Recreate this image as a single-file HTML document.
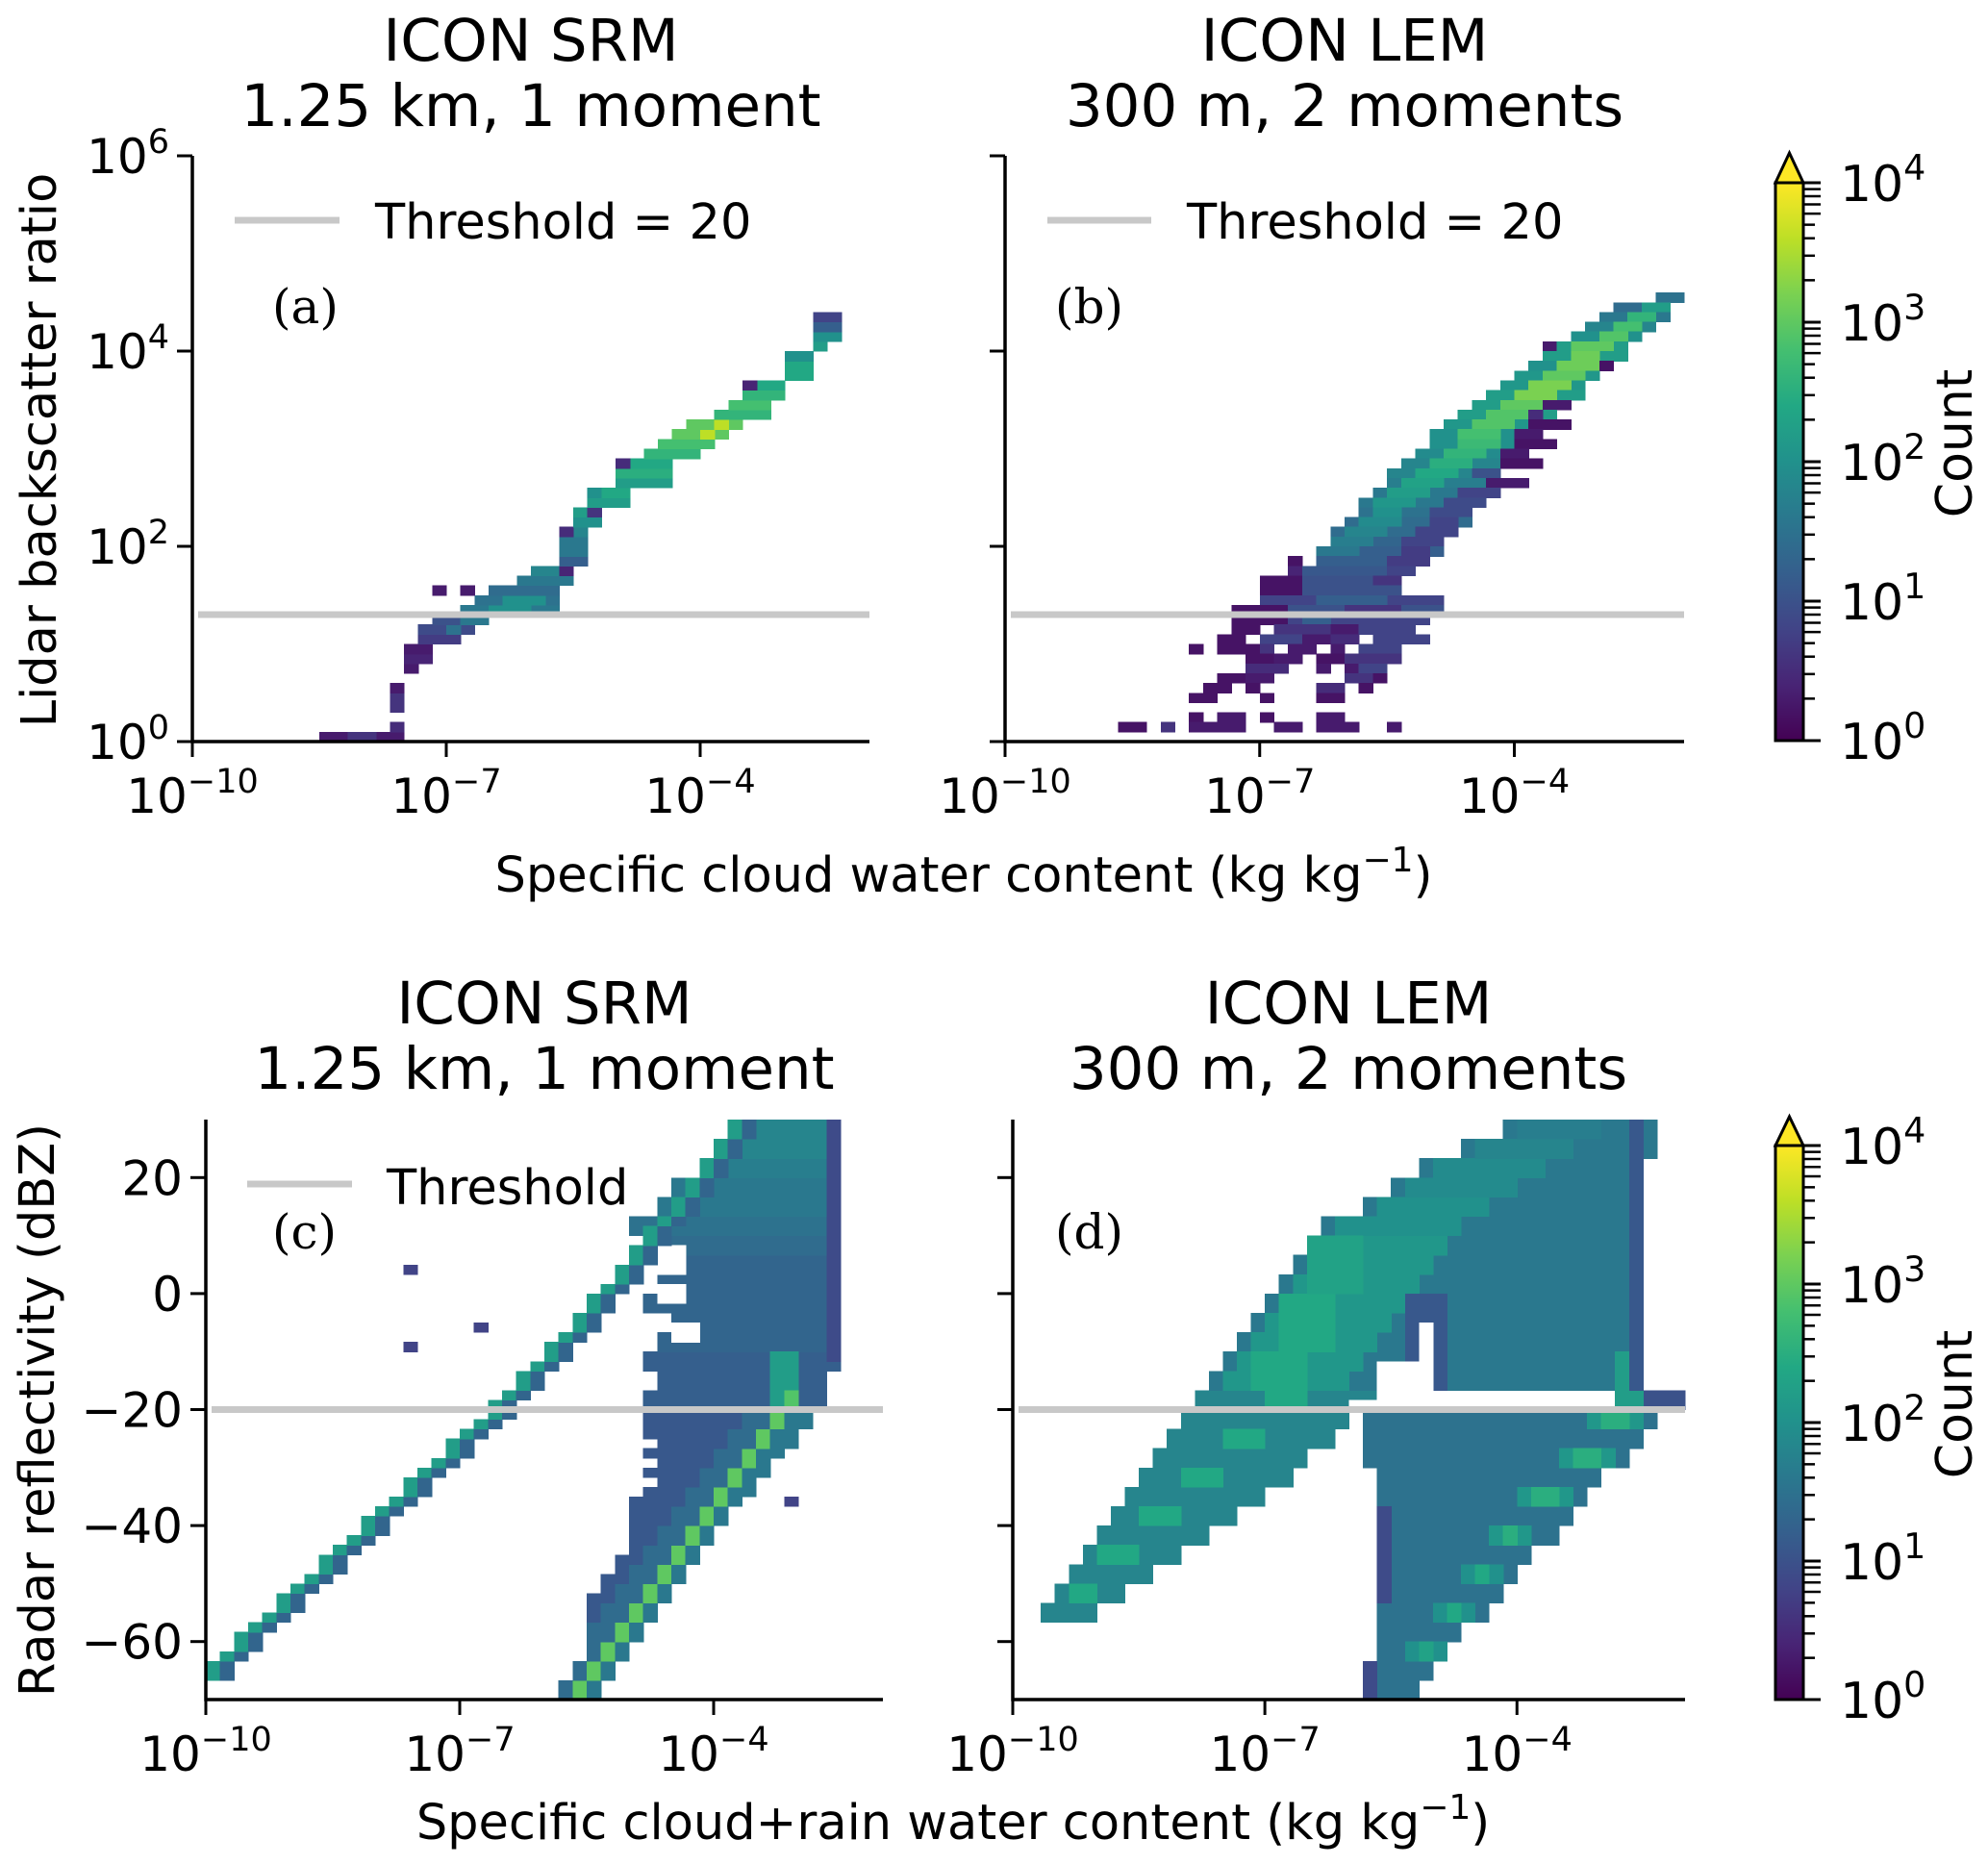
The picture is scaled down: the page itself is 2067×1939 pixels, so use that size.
<!DOCTYPE html>
<html><head><meta charset="utf-8"><style>
html,body{margin:0;padding:0;background:#fff;}
svg{display:block;font-family:"DejaVu Sans","Liberation Sans",sans-serif;}
</style></head><body>
<svg id="fig" xmlns="http://www.w3.org/2000/svg" width="2067" height="1939" viewBox="0 0 2067 1939">
<defs>
<linearGradient id="vir" x1="0" y1="1" x2="0" y2="0">
<stop offset="0" stop-color="#440154"/><stop offset="0.1" stop-color="#482475"/><stop offset="0.2" stop-color="#414487"/><stop offset="0.3" stop-color="#355f8d"/><stop offset="0.4" stop-color="#2a788e"/><stop offset="0.5" stop-color="#21918c"/><stop offset="0.6" stop-color="#22a884"/><stop offset="0.7" stop-color="#44bf70"/><stop offset="0.8" stop-color="#7ad151"/><stop offset="0.9" stop-color="#bddf26"/><stop offset="1" stop-color="#fde725"/>
</linearGradient>
</defs>
<g id="root"></g>
</svg>
<script>
// ---------- DATA ----------
const xTickExp = [-10, -7, -4];
const lidarTickExp = [0, 2, 4, 6];
const radarTicks = [-60, -40, -20, 0, 20];
const cbarExp = [0, 1, 2, 3, 4];
const lidarThreshold = 20;
const radarThreshold = -20;

const segA = [
[0,9,14,0.3],[0,11,12,0.6],[1,14,14,0.5],[3,14,14,0.6],[4,14,14,0.6],[5,14,14,0.3],
[7,15,15,0.3],[8,15,16,0.4],[9,15,16,0.3],[10,16,18,0.7],[11,16,19,0.9],[11,18,18,1.5],
[12,17,20,1.0],[12,19,20,1.6],[13,19,25,1.6],[13,21,23,2.0],[14,20,25,1.5],[14,22,24,2.0],
[15,17,17,0.3],[15,19,19,0.3],[15,21,25,1.4],[16,23,26,1.6],[17,24,26,1.8],[17,26,26,0.4],
[18,26,27,1.2],[19,26,27,1.6],[20,26,27,1.6],[21,26,27,1.8],[21,26,26,0.5],
[22,27,28,2.0],[23,27,28,2.2],[23,28,28,0.6],[24,28,30,2.2],[25,28,30,2.0],[25,29,30,2.4],
[26,30,33,2.2],[27,30,33,2.5],[28,30,33,2.4],[28,30,30,0.5],[29,32,35,2.6],[30,33,36,2.8],
[31,34,37,3.0],[31,36,36,3.6],[32,35,38,3.0],[32,37,37,3.6],[33,37,40,2.6],[34,38,40,2.8],
[35,39,41,2.6],[36,39,41,2.4],[36,39,39,0.4],[37,42,43,2.4],[38,42,43,2.4],[39,42,43,2.0],
[40,44,44,2.2],[41,44,45,2.0],[42,44,45,1.2],[43,44,45,0.8]
];

const segB = [
[45,46,47,1.5],[44,43,46,1.4],[44,45,46,2.2],[43,42,46,1.6],[43,44,45,2.6],
[42,41,45,1.8],[42,43,44,2.8],[41,40,44,2.0],[41,42,43,2.9],
[40,38,42,0.3],[40,39,43,2.2],[40,40,42,3.0],[39,38,43,2.2],[39,40,41,3.1],
[38,37,42,2.0],[38,39,41,3.1],[38,42,42,0.2],[37,36,41,2.1],[37,38,40,3.0],
[36,35,40,2.1],[36,37,39,3.2],[35,34,40,2.2],[35,36,38,3.2],
[34,33,39,2.2],[34,35,37,3.0],[34,38,39,0.3],[33,32,38,2.2],[33,34,36,2.9],[33,37,37,0.5],
[32,31,37,2.1],[32,33,35,2.9],[32,37,39,0.2],[31,30,36,2.0],[31,32,34,2.8],[31,36,37,0.3],
[30,30,36,2.0],[30,32,34,2.7],[30,36,38,0.2],[29,29,35,1.9],[29,31,33,2.6],[29,35,36,0.3],
[28,28,35,1.8],[28,30,32,2.5],[28,35,37,0.2],[27,27,34,1.8],[27,29,31,2.4],[27,33,34,1.0],
[26,27,34,1.7],[26,28,30,2.3],[26,34,36,0.3],[25,26,33,1.6],[25,27,29,2.2],[25,32,34,0.8],
[24,25,33,1.6],[24,26,28,2.1],[24,31,33,0.9],[23,25,32,1.5],[23,26,27,2.0],[23,30,32,0.9],
[22,24,32,1.4],[22,25,27,1.9],[22,30,31,0.8],[21,23,31,1.4],[21,24,26,1.8],[21,29,31,0.8],
[20,23,30,1.3],[20,23,25,1.7],[20,28,30,0.8],[19,22,30,1.2],[19,22,24,1.6],[19,28,29,0.7],
[18,20,20,0.2],[18,22,29,1.2],[18,27,29,0.7],[17,20,21,0.4],[17,21,28,1.1],[17,27,28,0.8],
[16,18,21,0.2],[16,21,27,1.0],[16,26,27,0.6],[15,18,20,0.2],[15,21,27,1.0],[15,26,27,1.0],
[14,18,30,0.8],[14,22,26,1.2],[13,16,22,0.2],[13,20,23,1.0],[13,24,28,0.6],[13,28,30,1.0],
[12,16,19,0.2],[12,20,29,0.8],[12,21,22,1.2],[11,16,17,0.2],[11,19,22,0.6],[11,23,24,0.3],[11,25,28,0.8],
[10,15,16,0.2],[10,18,20,0.8],[10,21,22,0.3],[10,23,24,0.5],[10,26,29,0.8],
[9,13,13,0.2],[9,15,17,0.2],[9,18,18,0.6],[9,20,21,0.3],[9,23,23,0.3],[9,25,27,0.8],
[8,17,18,0.2],[8,19,20,0.3],[8,22,23,0.2],[8,24,27,0.6],[7,17,19,0.5],[7,22,22,0.3],[7,24,24,0.3],[7,25,26,0.8],
[6,15,16,0.2],[6,17,18,0.3],[6,24,25,0.6],[6,26,26,0.2],[5,14,15,0.2],[5,17,17,0.2],[5,22,23,0.5],[5,25,25,0.2],
[4,13,14,0.2],[4,18,18,0.2],[4,22,23,0.2],[2,13,13,0.2],[2,15,16,0.3],[2,18,18,0.2],[2,22,23,0.3],
[1,8,9,0.2],[1,11,11,0.6],[1,13,16,0.3],[1,19,20,0.3],[1,22,24,0.3],[1,27,27,0.3]
];

const segCUpper = [
[30,31,31,43,1.2],[32,33,32,43,1.2],[34,35,31,44,1.2],[36,37,32,44,1.3],[38,39,33,44,1.3],
[40,41,31,44,1.3],[42,43,32,44,1.3],[44,45,31,44,1.3],[46,47,31,44,1.4],[48,49,30,44,1.5],
[50,51,32,44,1.6],[52,53,33,44,1.6],[54,55,35,44,1.7],[56,57,36,44,1.8],[58,59,37,44,1.8],
[35,59,44,44,0.9],[30,35,40,41,2.2],[30,31,41,41,2.9],[44,46,31,33,-1],[41,42,32,33,-1],[37,38,33,34,-1]
];
const segCOut = [[44,44,14,14,0.8],[38,38,19,19,0.8],[36,36,14,14,0.8],[20,20,41,41,0.8]];
const cLineRows = [2,3,4,5,6,7,8,9,10,11,12,13,14,15,16,17,18,19,20,21,22,23,24,25,26,27,28,29,30,31,32,33,34,35,36,37,38,39,40,41,42,43,44,45,46,47,48,49,50,51,52,53,54,55,56,57,58,59];
const cLineIdx = [0,0,1,2,2,3,4,5,5,6,7,8,8,9,10,11,11,12,13,14,14,15,16,17,17,18,19,20,20,21,22,22,23,24,24,25,26,26,27,27,28,29,29,30,30,31,31,32,33,33,34,34,35,35,36,36,37,37];
const cBranchLeft = [25,25,26,26,27,27,27,27,27,27,27,28,28,29,29,30,30,30,30,30,30,31,32,31,32,31,32,31,31,31];
const cBranchBright = [26,26,27,27,28,28,29,29,30,30,31,31,32,32,33,33,34,34,35,35,36,36,37,37,38,38,39,39,40,40];
const cBranchRight = [27,27,28,28,29,29,30,30,31,31,32,32,33,33,34,34,35,35,36,36,37,38,38,39,39,40,41,41,42,42];

const segD = [
[0,1,26,28,1.5],[2,3,26,29,1.5],[4,5,26,30,1.5],[6,7,26,31,1.5],[8,9,26,33,1.5],[10,11,27,34,1.5],
[12,13,27,35,1.5],[14,15,27,36,1.5],[16,17,27,38,1.5],[18,19,27,39,1.5],[20,21,26,40,1.5],
[22,23,26,41,1.5],[24,25,25,43,1.5],[26,27,25,44,1.5],[28,29,25,45,1.5],[30,31,45,47,1.0],
[0,3,25,25,0.9],[10,19,26,26,0.9],
[4,5,28,30,2.0],[8,9,30,32,2.0],[12,13,32,34,2.0],[16,17,34,36,2.1],[20,21,36,39,2.1],[24,25,39,42,2.1],[28,29,41,44,2.1],
[4,5,29,29,2.3],[8,9,31,31,2.4],[12,13,33,33,2.4],[16,17,35,35,2.5],[20,21,37,38,2.5],[24,25,40,41,2.5],[28,29,42,43,2.5],
[8,9,2,5,1.8],[10,11,3,7,1.8],[12,13,4,9,1.8],[14,15,5,11,1.8],[16,17,6,13,1.8],[18,19,7,15,1.8],
[20,21,8,17,1.8],[22,23,9,19,1.8],[24,25,10,20,1.8],[26,27,11,22,1.8],[28,29,12,23,1.8],[30,31,13,26,1.8],
[10,11,4,5,2.4],[14,15,6,8,2.4],[18,19,9,11,2.4],[22,23,12,14,2.4],[26,27,15,17,2.4],[30,31,18,20,2.4],
[32,33,14,44,1.6],[34,35,15,44,1.6],[36,37,16,44,1.6],[38,39,17,44,1.6],[40,41,18,44,1.6],[42,43,19,44,1.6],
[44,45,20,44,1.6],[46,47,21,44,1.6],[48,49,22,44,1.6],[50,51,25,44,1.6],[52,53,27,44,1.6],[54,55,29,44,1.6],
[56,57,32,45,1.6],[58,59,35,45,1.6],
[32,33,15,23,2.1],[34,35,16,24,2.1],[36,37,17,25,2.1],[38,39,18,26,2.1],[40,41,19,27,2.1],[42,43,20,28,2.1],
[44,45,21,29,2.1],[46,47,22,30,2.1],[48,49,23,31,2.0],[50,51,26,33,2.0],[52,53,28,35,1.9],[54,55,30,37,1.9],[56,57,33,39,1.8],[58,59,36,41,1.7],
[32,35,17,20,2.4],[36,41,19,22,2.4],[42,47,21,24,2.3],
[32,41,28,30,1.1],
[30,35,43,44,2.2],[32,59,44,44,1.1],
[31,34,26,29,-1],[35,38,29,29,-1],[30,30,24,26,-1]
];

// ---------- RENDER ----------
const NS = 'http://www.w3.org/2000/svg';
const root = document.getElementById('root');
const VIR = ['#440154','#482475','#414487','#355f8d','#2a788e','#21918c','#22a884','#44bf70','#7ad151','#bddf26','#fde725'];
function hex(h){return [parseInt(h.substr(1,2),16),parseInt(h.substr(3,2),16),parseInt(h.substr(5,2),16)];}
function viridis(t){t=Math.max(0,Math.min(1,t));const f=t*10,i=Math.min(9,Math.floor(f)),u=f-i;const a=hex(VIR[i]),b=hex(VIR[i+1]);
 return 'rgb('+a.map((v,k)=>Math.round(v+(b[k]-v)*u)).join(',')+')';}
function el(tag, attrs, parent){const e=document.createElementNS(NS,tag);for(const k in attrs)e.setAttribute(k,attrs[k]);(parent||root).appendChild(e);return e;}

const P = {
 a:{x0:200,x1:904,yTop:162,yBot:771,ymin:0,ymax:6,rowH:0.1},
 b:{x0:1045,x1:1751,yTop:162,yBot:771,ymin:0,ymax:6,rowH:0.1},
 c:{x0:214,x1:918,yTop:1164,yBot:1767,ymin:-70,ymax:30,rowH:100/60},
 d:{x0:1053,x1:1752,yTop:1164,yBot:1767,ymin:-70,ymax:30,rowH:100/60}
};
function xs(p,lg){return p.x0+(lg+10)/8*(p.x1-p.x0);}
function ys(p,v){return p.yBot-(v-p.ymin)/(p.ymax-p.ymin)*(p.yBot-p.yTop);}

function drawCell(g,p,row,idx,level){
 const xa=xs(p,-10+idx/6), xb=xs(p,-10+(idx+1)/6);
 const ya=ys(p,p.ymin+(row+1)*p.rowH), yb=ys(p,p.ymin+row*p.rowH);
 const r=el('rect',{x:xa.toFixed(2),y:ya.toFixed(2),width:(xb-xa+0.6).toFixed(2),height:(yb-ya+0.6).toFixed(2),fill:level<0?'#ffffff':viridis(level/4)},g);
 
 
}
function drawSegs(g,p,segs){
 segs.forEach(s=>{let r0,r1,i0,i1,l;
  if(s.length===4){[r0,i0,i1,l]=s;r1=r0;}else{[r0,r1,i0,i1,l]=s;}
  for(let r=r0;r<=r1;r++)for(let i=i0;i<=i1;i++)drawCell(g,p,r,i,l);});
}
function sup(t,base,exp,fs){
 t.textContent='';
 const a=el('tspan',{},t);a.textContent=base;
 const b=el('tspan',{dy:-fs*0.42,'font-size':fs*0.7},t);b.textContent=exp;
}
function txt(x,y,s,attrs,name){const t=el('text',Object.assign({x:x,y:y},attrs||{}));t.textContent=s;
 return t;}

function axes(key){
 const p=P[key];
 const g=el('g',{});
 const hm=el('g',{'shape-rendering':'crispEdges'},g);
 return {p,g,hm};
}
function frame(o,labelY,yTicks,yFmt,thr){
 const {p,g}=o;
 const ty=ys(p,thr);
 const tl=el('line',{x1:p.x0+6,x2:p.x1,y1:ty,y2:ty,stroke:'#c8c8c8','stroke-width':7},g);
 
 const sp=el('path',{d:`M${p.x0},${p.yTop} V${p.yBot} H${p.x1}`,fill:'none',stroke:'#000','stroke-width':3.5},g);
 
 xTickExp.forEach(e=>{const x=xs(p,e);
  const t=el('line',{x1:x,x2:x,y1:p.yBot,y2:p.yBot+16,stroke:'#000','stroke-width':3},g);
  
  const lb=txt(x,p.yBot+74,'',{'font-size':50,'text-anchor':'middle'},'x-tick-label');g.appendChild(lb);
  sup(lb,'10','\u2212'+Math.abs(e),50);
 });
 yTicks.forEach(v=>{const y=ys(p,v);
  const t=el('line',{x1:p.x0-16,x2:p.x0,y1:y,y2:y,stroke:'#000','stroke-width':3},g);
  
  if(labelY){const lb=txt(p.x0-24,y+18,'',{'font-size':50,'text-anchor':'end'},'y-tick-label');g.appendChild(lb);
   if(yFmt==='log'){sup(lb,'10',String(v),50);}else{lb.textContent=v<0?'\u2212'+Math.abs(v):String(v);}}
 });
}

let o=axes('a');drawSegs(o.hm,o.p,segA);
frame(o,true,lidarTickExp,'log',Math.log10(lidarThreshold));
o=axes('b');drawSegs(o.hm,o.p,segB);
frame(o,false,lidarTickExp,'log',Math.log10(lidarThreshold));
o=axes('c');
drawSegs(o.hm,o.p,segCUpper);
cBranchLeft.forEach((L,i)=>{const B=cBranchBright[i],R=cBranchRight[i];
 for(let k=L;k<B;k++)drawCell(o.hm,o.p,i,k,k<B-2?1.1:1.4);
 drawCell(o.hm,o.p,i,B,3.0);
 for(let k=B+1;k<=R;k++)drawCell(o.hm,o.p,i,k,1.6);});
cLineRows.forEach((r,i)=>{const c=cLineIdx[i];drawCell(o.hm,o.p,r,c,2.2);drawCell(o.hm,o.p,r,c+1,1.3);});
drawSegs(o.hm,o.p,segCOut);
frame(o,true,radarTicks,'lin',radarThreshold);
o=axes('d');drawSegs(o.hm,o.p,segD);
frame(o,false,radarTicks,'lin',radarThreshold);

[['a',552,'ICON SRM','1.25 km, 1 moment'],['b',1398,'ICON LEM','300 m, 2 moments']].forEach(t=>{
 txt(t[1],63,t[2],{'font-size':61,'text-anchor':'middle'},'title-'+t[0]+'-model');
 txt(t[1],131,t[3],{'font-size':61,'text-anchor':'middle'},'title-'+t[0]+'-config');});
[['c',566,'ICON SRM','1.25 km, 1 moment'],['d',1402,'ICON LEM','300 m, 2 moments']].forEach(t=>{
 txt(t[1],1064,t[2],{'font-size':61,'text-anchor':'middle'},'title-'+t[0]+'-model');
 txt(t[1],1132,t[3],{'font-size':61,'text-anchor':'middle'},'title-'+t[0]+'-config');});

let xl=txt(1002,927,'',{'font-size':51,'text-anchor':'middle'},'x-axis-title-top');
(function(){const a=el('tspan',{},xl);a.textContent='Specific cloud water content (kg kg';const b=el('tspan',{dy:-21,'font-size':36},xl);b.textContent='\u22121';const c=el('tspan',{dy:21},xl);c.textContent=')';})();
let xl2=txt(991,1912,'',{'font-size':51,'text-anchor':'middle'},'x-axis-title-bottom');
(function(){const a=el('tspan',{},xl2);a.textContent='Specific cloud+rain water content (kg kg';const b=el('tspan',{dy:-21,'font-size':36},xl2);b.textContent='\u22121';const c=el('tspan',{dy:21},xl2);c.textContent=')';})();
txt(58,468,'Lidar backscatter ratio',{'font-size':51,'text-anchor':'middle',transform:'rotate(-90 58 468)'},'y-axis-title-top');
txt(56,1466,'Radar reflectivity (dBZ)',{'font-size':51,'text-anchor':'middle',transform:'rotate(-90 56 1466)'},'y-axis-title-bottom');

[[244,353,229,390,246,'Threshold = 20','a'],[1089,1197,229,1234,246,'Threshold = 20','b'],[257,366,1231,402,1250,'Threshold','c']].forEach(L=>{
 const g=el('g',{});
 const ln=el('line',{x1:L[0],x2:L[1],y1:L[2],y2:L[2],stroke:'#c8c8c8','stroke-width':7},g);
 
 const t=txt(L[3],L[4]+2,L[5],{'font-size':51},'legend-label');g.appendChild(t);});

[['(a)',283,336],['(b)',1097,336],['(c)',283,1298],['(d)',1097,1298]].forEach(l=>{
 txt(l[1],l[2],l[0],{'font-size':50,'font-family':'"DejaVu Serif","Liberation Serif",serif'},'panel-label');});

[[190,770,159,461,'top'],[1191,1767,1161,1460,'bottom']].forEach(c=>{
 const g=el('g',{});
 const x0=1846,x1=1875,top=c[0],bot=c[1];
 const ar=el('path',{d:`M${x0},${top} L${(x0+x1)/2},${c[2]} L${x1},${top} Z`,fill:'#fde725',stroke:'#000','stroke-width':3},g);
 
 const r=el('rect',{x:x0,y:top,width:x1-x0,height:bot-top,fill:'url(#vir)',stroke:'#000','stroke-width':3},g);
 
 const cy=v=>bot-v/4*(bot-top);
 cbarExp.forEach(k=>{
  const t=el('line',{x1:x1,x2:x1+18,y1:cy(k),y2:cy(k),stroke:'#000','stroke-width':3},g);
  
  const lb=txt(1913,cy(k)+19,'',{'font-size':52},'colorbar-tick-label');g.appendChild(lb);sup(lb,'10',String(k),52);
  if(k<4){for(let m=2;m<=9;m++){const y=cy(k+Math.log10(m));
   const mt=el('line',{x1:x1,x2:x1+(m>=6?18:12),y1:y,y2:y,stroke:'#000','stroke-width':2.5},g);
   }}
 });
 const ct=txt(2050,c[3],'Count',{'font-size':52,'text-anchor':'middle',transform:`rotate(-90 2050 ${c[3]})`},'colorbar-title');g.appendChild(ct);
});
</script>
</body></html>
